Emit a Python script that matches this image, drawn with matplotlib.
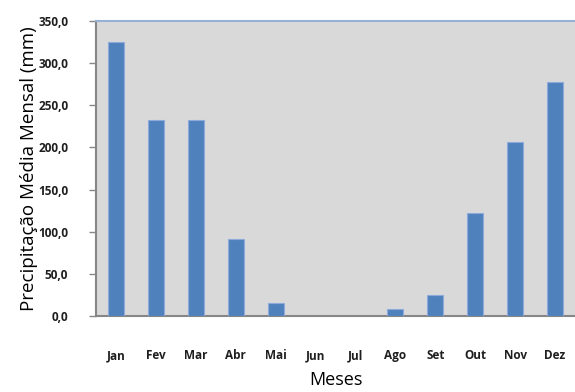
import numpy as np
import matplotlib.pyplot as plt

meses = ['Jan', 'Fev', 'Mar', 'Abr', 'Mai', 'Jun', 'Jul', 'Ago', 'Set', 'Out', 'Nov', 'Dez']
precip = [325.5, 232.5, 232.0, 91.5, 15.0, 0.0, 0.0, 8.0, 24.5, 122.5, 206.0, 277.5]
yticks = [0, 50, 100, 150, 200, 250, 300, 350]

fig = plt.figure(figsize=(5.75, 3.92), dpi=100)
ax = fig.add_axes([96/575, 76/392, 479/575, 295/392])
ax.set_facecolor('#D9D9D9')

x = np.arange(len(meses))
ax.bar(x, precip, width=0.4, color='#4F81BD', edgecolor='#8EAADB', linewidth=0.8, zorder=3)

ax.set_xlim(-0.5, 11.5)
ax.set_ylim(0, 350)
ax.set_yticks(yticks)
ax.yaxis.set_major_formatter(plt.FuncFormatter(lambda v, p: ('%.1f' % v).replace('.', ',')))
ax.set_xticks(x)
ax.set_xticklabels(meses)

for lab in ax.get_xticklabels() + ax.get_yticklabels():
    lab.set_fontfamily('Open Sans')
    lab.set_fontsize(8.5)
    lab.set_fontweight('bold')
    lab.set_color('#1F1F1F')

ax.tick_params(axis='y', length=5, width=1, color='#868686', pad=15)
ax.tick_params(axis='x', length=0, pad=24)

ax.spines['right'].set_visible(False)
ax.spines['top'].set_color('#95B3D7')
ax.spines['top'].set_linewidth(1.5)
for s in ['left', 'bottom']:
    ax.spines[s].set_color('#868686')
    ax.spines[s].set_linewidth(1.5)

ax.set_ylabel('Precipitação Média Mensal (mm)', fontfamily='Open Sans', fontsize=13.5, labelpad=0)
ax.set_xlabel('Meses', fontfamily='Open Sans', fontsize=13, labelpad=6)

fig.savefig('out.png', dpi=100)
